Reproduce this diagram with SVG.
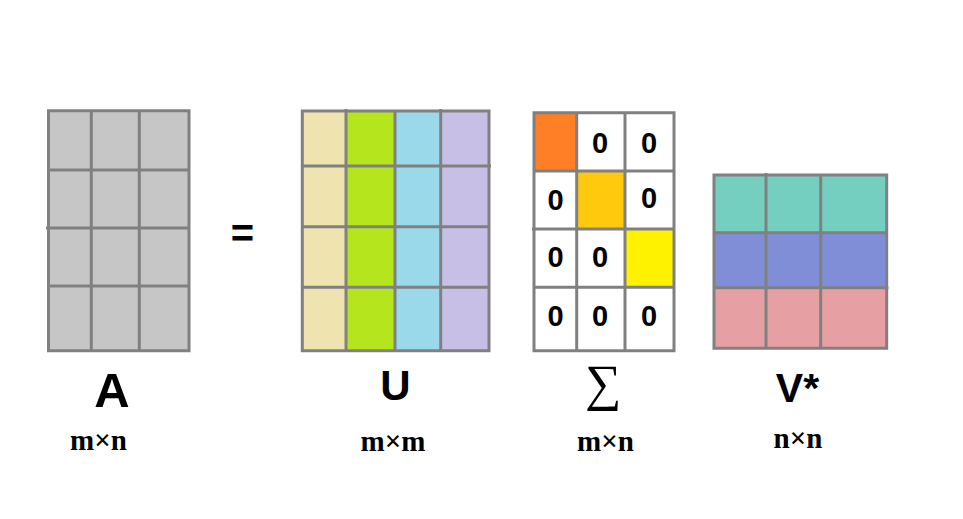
<svg xmlns="http://www.w3.org/2000/svg" width="963" height="519" viewBox="0 0 963 519">
<style>
.grid{fill:none;stroke:#808080;stroke-width:3}
.lbl{font-family:"Liberation Sans",Arial,sans-serif;font-weight:bold;fill:#000;text-anchor:middle}
.dim{font-family:"Liberation Serif","Times New Roman",serif;font-weight:bold;font-size:29px;fill:#000;text-anchor:middle}
.zero{font-family:"Liberation Sans",Arial,sans-serif;font-weight:bold;font-size:29px;fill:#000;text-anchor:middle}
</style>
<rect width="963" height="519" fill="#ffffff"/>
<g id="matrixA">
<rect x="48.5" y="110.7" width="140.5" height="240" fill="#c6c6c6"/>
<path class="grid" d="M48.5 110.7H189V350.7H48.5Z M91.3 110.7V350.7 M139.3 110.7V350.7 M48.5 170H189 M46 228H189 M48.5 286H189"/>
<text class="lbl" x="112" y="406.5" font-size="49">A</text>
<text class="dim" x="98.5" y="450">m×n</text>
</g>
<g id="equals">
<text class="lbl" x="242.5" y="247" font-size="40">=</text>
</g>
<g id="matrixU">
<rect x="302.3" y="111" width="43.7" height="239.7" fill="#efe4b0"/>
<rect x="346" y="111" width="49" height="239.7" fill="#b5e61d"/>
<rect x="395" y="111" width="45.7" height="239.7" fill="#99d9ea"/>
<rect x="440.7" y="111" width="48.3" height="239.7" fill="#c8bfe7"/>
<path class="grid" d="M302.3 111H489V350.7H302.3Z M346 109V350.7 M395 111V350.7 M440.7 109V350.7 M302.3 166H491 M302.3 226.7H489 M302.3 287.3H489"/>
<text class="lbl" x="395.5" y="399.5" font-size="42">U</text>
<text class="dim" x="393" y="450.5">m×m</text>
</g>
<g id="matrixSigma">
<rect x="534" y="112.7" width="140" height="238" fill="#ffffff"/>
<rect x="534" y="112.7" width="42.7" height="58.3" fill="#ff7f27"/>
<rect x="576.7" y="171" width="48.3" height="58" fill="#ffc90e"/>
<rect x="625" y="229" width="49" height="58.3" fill="#fff200"/>
<path class="grid" d="M534 112.7H674V350.7H534Z M576.7 112.7V350.7 M625 112.7V350.7 M534 171H674 M532 229H674 M534 287.3H674"/>
<text class="zero" x="600" y="152.5">0</text>
<text class="zero" x="649" y="152.5">0</text>
<text class="zero" x="555.5" y="210">0</text>
<text class="zero" x="649" y="208">0</text>
<text class="zero" x="555.5" y="267">0</text>
<text class="zero" x="600" y="267">0</text>
<text class="zero" x="555.5" y="326">0</text>
<text class="zero" x="600" y="326">0</text>
<text class="zero" x="649" y="326">0</text>
<text x="603.5" y="400" font-family="'Liberation Serif','DejaVu Serif',serif" font-size="51" text-anchor="middle" fill="#000">∑</text>
<text class="dim" x="605.5" y="450.5">m×n</text>
</g>
<g id="matrixV">
<rect x="714" y="175" width="172.7" height="57.7" fill="#74cfc0"/>
<rect x="714" y="232.7" width="172.7" height="55" fill="#808ed8"/>
<rect x="714" y="287.7" width="172.7" height="60.6" fill="#e6a0a3"/>
<path class="grid" d="M714 175H886.7V348.3H714Z M766 173V348.3 M820.7 175V348.3 M714 232.7H886.7 M714 287.7H888.5"/>
<text class="lbl" x="797.5" y="401.5" font-size="41">V*</text>
<text class="dim" x="798" y="448.3">n×n</text>
</g>
<g id="connectors"/>
</svg>
